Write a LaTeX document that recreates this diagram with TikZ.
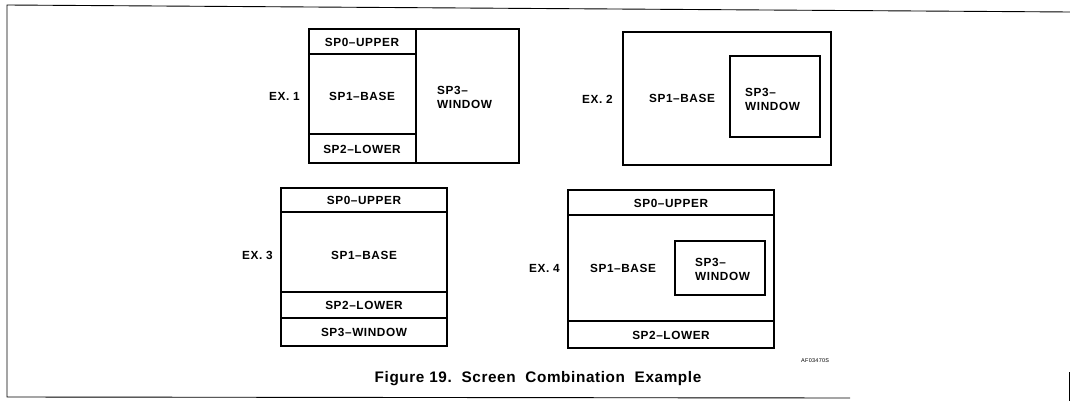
\documentclass[tikz,border=0pt]{standalone}
\usepackage{fontspec}
\setmainfont{Liberation Sans}[LetterSpace=5]
\newfontfamily\capfont{Liberation Sans}[LetterSpace=4]
\begin{document}
\begin{tikzpicture}[x=1pt,y=-1pt,
  outer/.style={draw,line width=2.6pt,line join=miter},
  inner/.style={draw,line width=1.8pt},
  win/.style={draw,line width=2.8pt},
  frame/.style={draw,line width=0.9pt},
  lbl/.style={font=\fontsize{11.8}{12}\selectfont\bfseries,inner sep=0pt},
  lbll/.style={lbl,align=left,font=\fontsize{11.8}{14}\selectfont\bfseries},
]
\useasboundingbox (0,0) rectangle (1070,401);
% page frame
\coordinate (ftl) at (7,5); \coordinate (ftr) at (1070,12);
\coordinate (fbl) at (7,397); \coordinate (fbr) at (850,398);
\coordinate (frt) at (1069,372); \coordinate (frb) at (1069,401);
\draw[frame] (ftr) -- (ftl) -- (fbl) -- (fbr);
\draw[frame] (frt) -- (frb);

% EX. 1
\draw[inner] (309,54) -- (416,54);
\draw[inner] (309,134) -- (416,134);
\draw[inner] (416,29) -- (416,163);
\draw[outer] (309,29) rectangle (519,163);
\node[lbl] (e1u) at (362,42) {SP0\textendash UPPER};
\node[lbl] (e1b) at (362,96) {SP1\textendash BASE};
\node[lbl] (e1l) at (362,149) {SP2\textendash LOWER};
\node[lbll,anchor=west] (e1w) at (437,97) {SP3\textendash\\WINDOW};
\node[lbl,anchor=east] (ex1) at (300,96) {EX. 1};

% EX. 2
\draw[outer] (623,32) rectangle (831,165);
\draw[win] (730,56) rectangle (820,137);
\node[lbl] (e2b) at (682,98) {SP1\textendash BASE};
\node[lbll,anchor=west] (e2w) at (745,99) {SP3\textendash\\WINDOW};
\node[lbl,anchor=east] (ex2) at (613,99) {EX. 2};

% EX. 3
\draw[inner] (281,212) -- (447,212);
\draw[inner] (281,292) -- (447,292);
\draw[inner] (281,318) -- (447,318);
\draw[outer] (281,188) rectangle (447,346);
\node[lbl] (e3u) at (364,200) {SP0\textendash UPPER};
\node[lbl] (e3b) at (364,255) {SP1\textendash BASE};
\node[lbl] (e3l) at (364,305) {SP2\textendash LOWER};
\node[lbl] (e3w) at (364,332) {SP3\textendash WINDOW};
\node[lbl,anchor=east] (ex3) at (273,255) {EX. 3};

% EX. 4
\draw[inner] (568,215) -- (774,215);
\draw[inner] (568,321) -- (774,321);
\draw[outer] (568,190) rectangle (774,348);
\draw[win] (675,241) rectangle (765,295);
\node[lbl] (e4u) at (671,203) {SP0\textendash UPPER};
\node[lbl] (e4b) at (623,268) {SP1\textendash BASE};
\node[lbll,anchor=west] (e4w) at (695,269) {SP3\textendash\\WINDOW};
\node[lbl] (e4l) at (671,335) {SP2\textendash LOWER};
\node[lbl,anchor=east] (ex4) at (560,268) {EX. 4};

% ids and caption
\node[inner sep=0pt,anchor=west,font=\fontsize{5.5}{6}\selectfont] (af) at (801,361) {AF03470S};
\node[inner sep=0pt,font=\capfont\fontsize{15.3}{16}\selectfont\bfseries] (cap) at (538,379) {Figure 19.\ \ Screen\ \ Combination\ \ Example};
\end{tikzpicture}
\end{document}
